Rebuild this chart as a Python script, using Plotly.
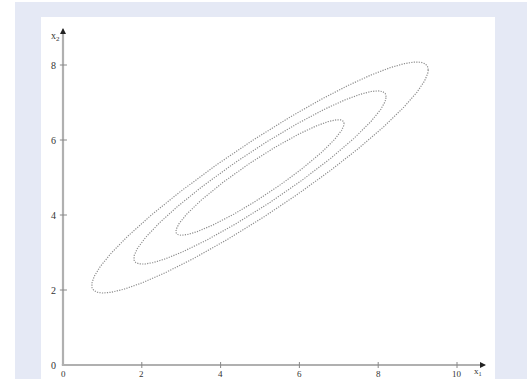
import numpy as np
import plotly.graph_objects as go

# ---- data ----
center = [5.0, 5.0]          # mean (x1, x2)
sigma = [2.135, 1.54]        # std devs of x1, x2
rho = 0.932                  # correlation
levels = [1.0, 1.5, 2.0]     # Mahalanobis radii of the three contours
x_ticks = [0, 2, 4, 6, 8, 10]
y_ticks = [0, 2, 4, 6, 8]
x_label = "x<sub>1</sub>"
y_label = "x<sub>2</sub>"

# plot-area geometry (pixels)
W, H = 527, 379
L, R, T, B = 41, 495, 17, 379
px_per_x, px_per_y = 39.4, 37.5
x0_px, y0_px = 63, 365
xr = [(L - x0_px) / px_per_x, (R - x0_px) / px_per_x]
yr = [(y0_px - B) / px_per_y, (y0_px - T) / px_per_y]
x_tip = (486 - x0_px) / px_per_x
y_tip = (y0_px - 28) / px_per_y

cov = np.array([[sigma[0] ** 2, rho * sigma[0] * sigma[1]],
                [rho * sigma[0] * sigma[1], sigma[1] ** 2]])
chol = np.linalg.cholesky(cov)
t = np.linspace(0, 2 * np.pi, 600)
circle = np.vstack([np.cos(t), np.sin(t)])

fig = go.Figure()
for c in levels:
    pts = chol @ (c * circle)
    fig.add_trace(go.Scatter(x=pts[0] + center[0], y=pts[1] + center[1],
                             mode="lines", hoverinfo="skip",
                             line=dict(color="#8c8c8c", width=1.2, dash="1.2px,1.3px")))

shapes = [
    dict(type="rect", xref="paper", yref="paper",
         x0=(15 - L) / (R - L), x1=(W - L) / (R - L) + 0.01,
         y0=-0.01, y1=(B - 2) / (B - T),
         fillcolor="#e5e9f5", line=dict(width=0), layer="below"),
    dict(type="rect", xref="paper", yref="paper", x0=0, x1=1, y0=-0.01, y1=1,
         fillcolor="white", line=dict(width=0), layer="below"),
    dict(type="line", xref="x", yref="y", x0=-0.03, x1=x_tip - 0.1, y0=0, y1=0,
         line=dict(color="#b0b0b0", width=2.2), layer="below"),
    dict(type="line", xref="x", yref="y", x0=0, x1=0, y0=0, y1=y_tip - 0.1,
         line=dict(color="#b0b0b0", width=2.2), layer="below"),
]
for v in x_ticks[1:]:
    shapes.append(dict(type="line", xref="x", yref="y", x0=v, x1=v,
                       y0=-0.08, y1=0.08, line=dict(color="#888", width=1)))
for v in y_ticks[1:]:
    shapes.append(dict(type="line", xref="x", yref="y", x0=-0.08, x1=0.1,
                       y0=v, y1=v, line=dict(color="#888", width=1)))

font = dict(family="Liberation Serif, Times New Roman, serif", size=10, color="#333")
xfont = dict(family="Liberation Serif, Times New Roman, serif", size=9, color="#333")
ann = []
for v in x_ticks:
    ann.append(dict(x=v, y=0, xref="x", yref="y", text=str(v), showarrow=False,
                    yshift=-9, font=xfont))
for v in y_ticks:
    ann.append(dict(x=0, y=v, xref="x", yref="y", text=str(v), showarrow=False,
                    xshift=-10, font=font))
ann.append(dict(x=x_tip, y=0, xref="x", yref="y", text=x_label, showarrow=False,
                xshift=-8, yshift=-6, font=xfont))
ann.append(dict(x=0, y=y_tip, xref="x", yref="y", text=y_label, showarrow=False,
                xshift=-8, yshift=-8, font=font))
# arrowheads
ann.append(dict(x=x_tip, y=0, xref="x", yref="y", ax=-4, ay=0, text=" ",
                showarrow=True, arrowhead=2, arrowsize=1, arrowwidth=1.2,
                arrowcolor="#222", standoff=0, font=dict(size=1)))
ann.append(dict(x=0, y=y_tip, xref="x", yref="y", ax=0, ay=4, text=" ",
                showarrow=True, arrowhead=2, arrowsize=1, arrowwidth=1.2,
                arrowcolor="#222", standoff=0, font=dict(size=1)))

fig.update_layout(
    width=W, height=H,
    margin=dict(l=L, r=W - R, t=T, b=H - B, pad=0),
    paper_bgcolor="white", plot_bgcolor="white",
    showlegend=False,
    xaxis=dict(range=xr, visible=False, fixedrange=True),
    yaxis=dict(range=yr, visible=False, fixedrange=True),
    shapes=shapes, annotations=ann,
)

fig.write_html("out.html", config={"displayModeBar": False},
               post_script="document.body.style.margin='0';document.body.style.overflow='hidden';")
